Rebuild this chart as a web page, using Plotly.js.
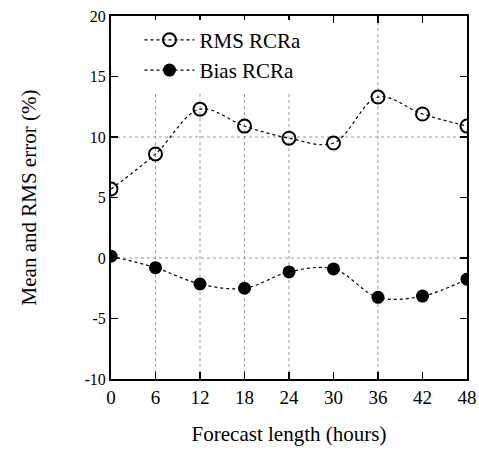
<!DOCTYPE html>
<html>
<head>
<meta charset="utf-8">
<script src="https://cdn.plot.ly/plotly-3.0.1.min.js"></script>
<style>html,body{margin:0;padding:0;background:#fff;}#chart{width:479px;height:451px;}</style>
</head>
<body>
<div id="chart"></div>
<script>
const forecastHours = [0, 6, 12, 18, 24, 30, 36, 42, 48];
const rmsRCRa  = [5.7, 8.6, 12.3, 10.9, 9.9, 9.5, 13.3, 11.9, 10.9];
const biasRCRa = [0.15, -0.8, -2.15, -2.5, -1.15, -0.9, -3.25, -3.15, -1.75];
const xTickVals = [0, 6, 12, 18, 24, 30, 36, 42, 48];
const yTickVals = [20, 15, 10, 5, 0, -5, -10];
const xGridVals = [6, 12, 18, 24, 36];
const yGridVals = [10, 0];

const serif = "Liberation Serif, Times New Roman, serif";

const traces = [
  {
    x: forecastHours, y: rmsRCRa, name: "RMS RCRa", type: "scatter", mode: "lines+markers",
    line: {color: "#000", width: 1.2, dash: "3px,3px", shape: "spline", smoothing: 1},
    marker: {symbol: "circle-open", size: 13, color: "#000", line: {width: 2, color: "#000"}}
  },
  {
    x: forecastHours, y: biasRCRa, name: "Bias RCRa", type: "scatter", mode: "lines+markers",
    line: {color: "#000", width: 1.2, dash: "3px,3px", shape: "spline", smoothing: 1},
    marker: {symbol: "circle", size: 13, color: "#000"}
  }
];

const shapes = [];
xGridVals.forEach(v => shapes.push({type: "line", xref: "x", yref: "paper", x0: v, x1: v, y0: 0, y1: 1,
  line: {color: "#999", width: 1, dash: "dot"}, layer: "below"}));
yGridVals.forEach(v => shapes.push({type: "line", xref: "paper", yref: "y", x0: 0, x1: 1, y0: v, y1: v,
  line: {color: "#999", width: 1, dash: "dot"}, layer: "below"}));

const layout = {
  width: 479, height: 451,
  margin: {l: 111, r: 12, t: 16, b: 72},
  paper_bgcolor: "#fff", plot_bgcolor: "#fff",
  font: {family: serif, color: "#000", size: 15},
  showlegend: true,
  legend: {x: 0.08, y: 0.99, xanchor: "left", yanchor: "top", bgcolor: "rgba(255,255,255,1)",
    font: {family: serif, size: 21, color: "#000"}, itemwidth: 50, tracegroupgap: 0},
  xaxis: {
    range: [0, 48], tickvals: xTickVals, ticktext: xTickVals.map(String),
    showgrid: false, zeroline: false, ticks: "inside", ticklen: 7, tickwidth: 1.5, tickcolor: "#000",
    showline: true, linecolor: "#000", linewidth: 2, mirror: "ticks",
    tickfont: {family: serif, size: 19},
    title: {text: "Forecast length (hours)", font: {family: serif, size: 21}, standoff: 20}
  },
  yaxis: {
    range: [-10, 20], tickvals: yTickVals, ticktext: yTickVals.map(String),
    showgrid: false, zeroline: false, ticks: "inside", ticklen: 7, tickwidth: 1.5, tickcolor: "#000",
    showline: true, linecolor: "#000", linewidth: 2, mirror: "ticks",
    tickfont: {family: serif, size: 16},
    title: {text: "Mean and RMS error (%)", font: {family: serif, size: 21}, standoff: 42}
  },
  shapes: shapes
};

Plotly.newPlot("chart", traces, layout, {displayModeBar: false, staticPlot: true});
</script>
</body>
</html>
